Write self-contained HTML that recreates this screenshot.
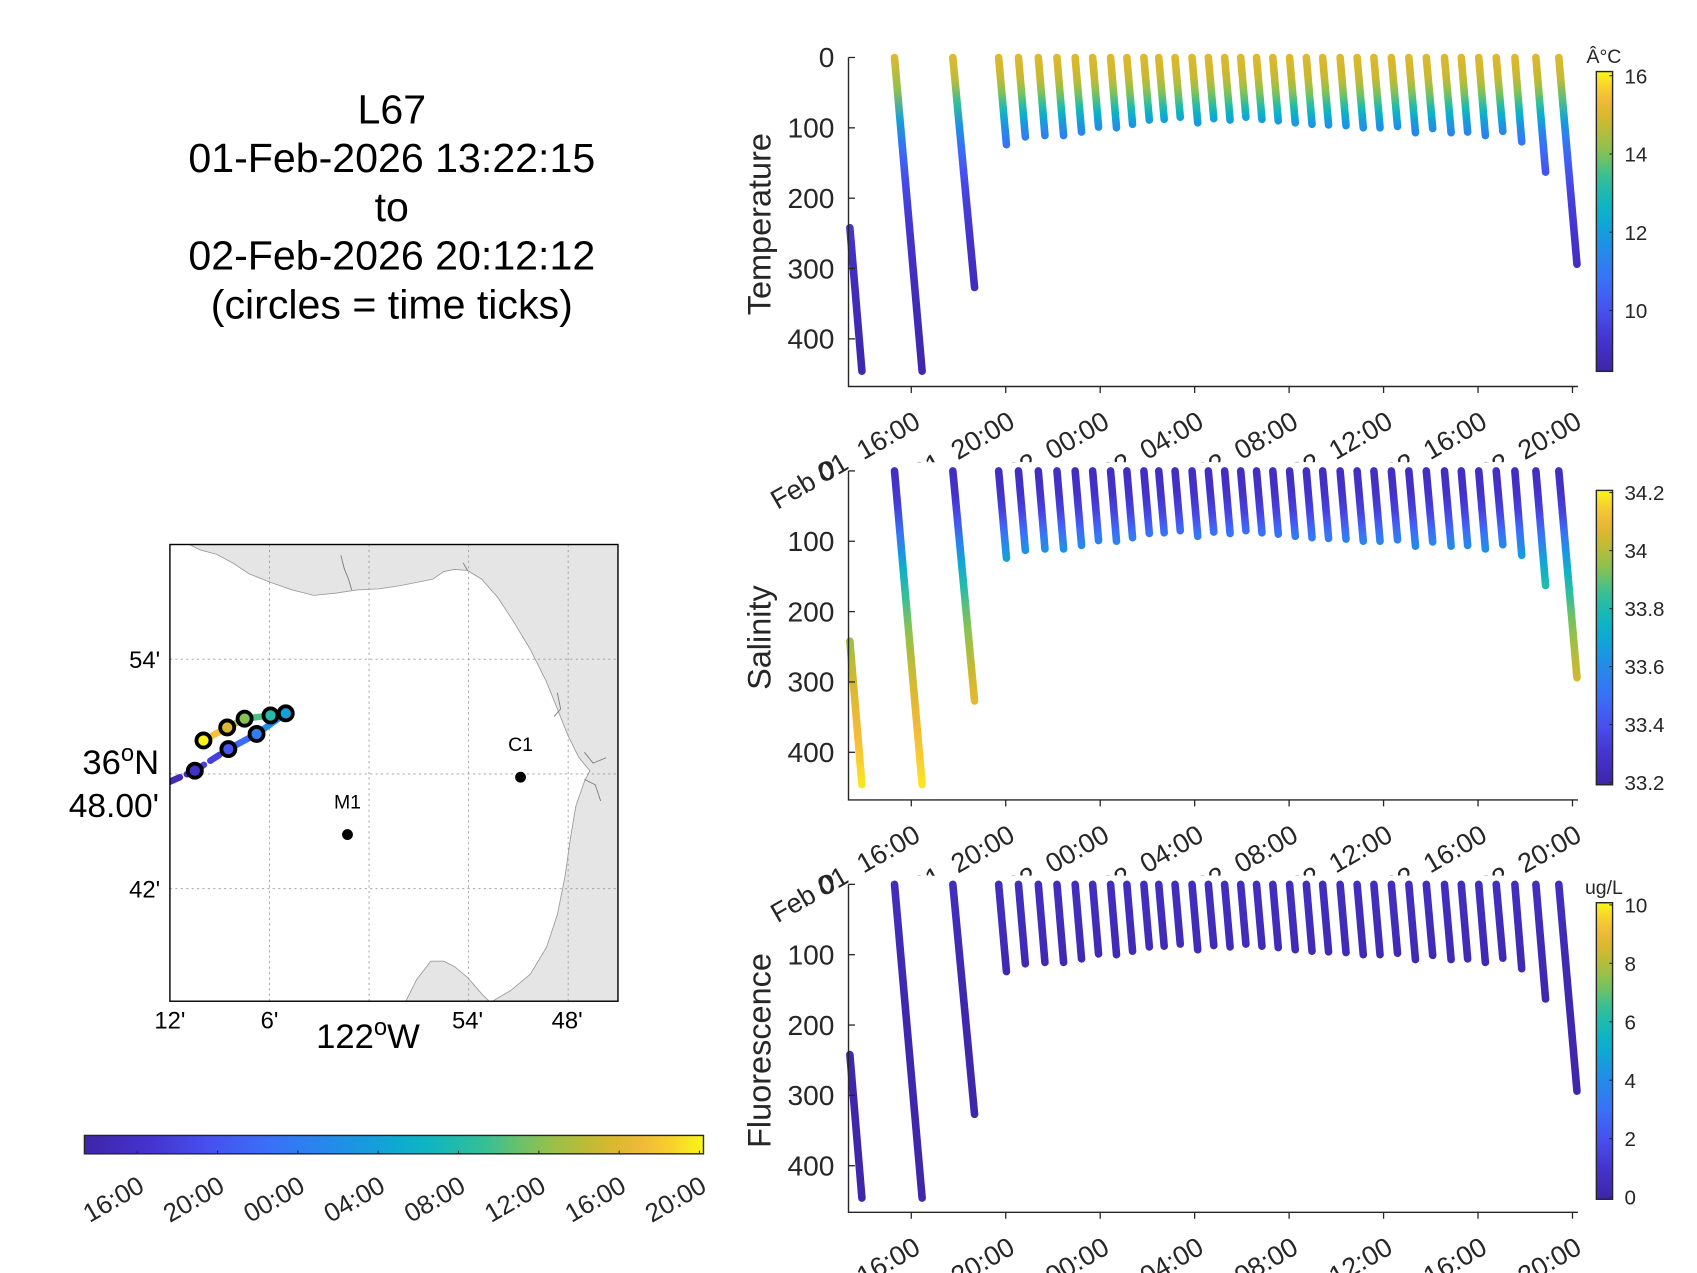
<!DOCTYPE html>
<html><head><meta charset="utf-8"><style>
html,body{margin:0;padding:0;background:#fff;overflow:hidden;}
svg{display:block;font-family:"Liberation Sans",sans-serif;}
</style></head><body>
<svg id="fig" width="1697" height="1273" viewBox="0 0 1568 1176" xmlns="http://www.w3.org/2000/svg">
<defs>
<clipPath id="mapclip"><rect x="157" y="503" width="414" height="422"/></clipPath>
<linearGradient id="hcb" x1="0" x2="1" y1="0" y2="0"></linearGradient>
</defs>
<g id="title" font-size="38" text-anchor="middle" fill="#000">
<text x="362" y="114">L67</text>
<text x="362" y="159">01-Feb-2026 13:22:15</text>
<text x="362" y="204">to</text>
<text x="362" y="249">02-Feb-2026 20:12:12</text>
<text x="362" y="294">(circles = time ticks)</text>
</g>
<g id="map"></g>
<g id="hcbar"></g>
<g id="panels"></g>
</svg>
<script>
// ---------- data ----------
const profStartHours = [-2.60,-0.71,1.76,3.70,4.54,5.38,6.17,6.94,7.68,8.44,9.13,9.85,10.48,11.17,11.89,12.58,13.27,13.95,14.62,15.31,16.02,16.73,17.42,18.16,18.88,19.59,20.33,21.07,21.81,22.58,23.29,24.03,24.77,25.56,26.45,27.42];
const profEndHours = [-2.09,0.46,2.68,4.03,4.83,5.66,6.45,7.21,7.93,8.69,9.37,10.08,10.71,11.39,12.13,12.81,13.50,14.17,14.85,15.54,16.26,16.97,17.67,18.41,19.14,19.85,20.59,21.35,22.08,22.86,23.56,24.31,25.05,25.85,26.86,28.19];
const profStartDepth = [242,0,0,0,0,0,0,0,0,0,0,0,0,0,0,0,0,0,0,0,0,0,0,0,0,0,0,0,0,0,0,0,0,0,0,0];
const profMaxDepth = [446,446,327,124,113,111,111,106,99,100,95,89,88,85,93,87,89,85,88,90,93,95,96,97,100,100,98,107,101,107,106,111,105,120,163,294];
const refDepth = [0,30,60,90,120,160,200,300,450];
const tempRef = [15.0,14.7,13.6,12.0,10.9,10.1,9.6,9.0,8.6];
const salRef = [33.27,33.29,33.36,33.52,33.66,33.8,33.9,34.05,34.18];
const fluoRef = [0.6,0.6,0.5,0.4,0.3,0.2,0.2,0.1,0.1];
const depthTicks = [0,100,200,300,400];
const timeTickHours = [0,4,8,12,16,20,24,28];
const timeTickLabels = ["Feb 01, 16:00","Feb 01, 20:00","Feb 02, 00:00","Feb 02, 04:00","Feb 02, 08:00","Feb 02, 12:00","Feb 02, 16:00","Feb 02, 20:00"];
const shortTickLabels = ["16:00","20:00","00:00","04:00","08:00","12:00","16:00","20:00"];
const trackLon = [-12.0,-10.50,-8.48,-6.78,-5.02,-5.94,-7.50,-8.55,-9.98,-10.3];
const trackLat = [47.6,48.17,49.30,50.09,51.17,51.06,50.89,50.43,49.75,49.6];
const trackHours = [-2.63,0,4,8,12,16,20,24,28,28.2];
const circleIdx = [1,2,3,4,5,6,7,8];
const stationNames = ["M1","C1"];
const stationLon = [-1.30,9.13];
const stationLat = [44.83,47.83];

// ---------- helpers ----------
const NS="http://www.w3.org/2000/svg";
const svg=document.getElementById('fig');
function mk(tag,attrs,parent){const e=document.createElementNS(NS,tag);for(const k in attrs)e.setAttribute(k,attrs[k]);if(parent)parent.appendChild(e);return e;}
const cmap=[[0,'#3e26a8'],[0.1,'#4432cc'],[0.2,'#4750ee'],[0.3,'#3a70f8'],[0.42,'#2090e6'],[0.53,'#07b2cc'],[0.64,'#2fbf9c'],[0.74,'#8cc24e'],[0.84,'#d2b82c'],[0.92,'#f8ba3c'],[1,'#f9f815']];
function hx(c){return [parseInt(c.slice(1,3),16),parseInt(c.slice(3,5),16),parseInt(c.slice(5,7),16)];}
function parula(t){t=Math.max(0,Math.min(1,t));for(let i=1;i<cmap.length;i++){if(t<=cmap[i][0]){const a=cmap[i-1],b=cmap[i];const f=(t-a[0])/(b[0]-a[0]);const A=hx(a[1]),B=hx(b[1]);return 'rgb('+A.map((v,j)=>Math.round(v+(B[j]-v)*f)).join(',')+')';}}return cmap[cmap.length-1][1];}
function interpRef(arr,d){for(let i=1;i<refDepth.length;i++){if(d<=refDepth[i]){const f=(d-refDepth[i-1])/(refDepth[i]-refDepth[i-1]);return arr[i-1]+(arr[i]-arr[i-1])*f;}}return arr[arr.length-1];}
const defs=svg.querySelector('defs');
const hg=document.getElementById('hcb');
for(let i=0;i<=20;i++){mk('stop',{offset:(i/20),'stop-color':parula(i/20)},hg);}

// ---------- time panels ----------
const X0=784,X1=1458,T16=842,PXH=21.82,DPX=0.65;
const xOfH=h=>T16+h*PXH;
const panels=[
 {name:'temperature',title:'Temperature',y0:53,yb:357,ref:tempRef,cmin:8.5,cmax:16.05,cbTop:68,cbBot:341,ticks:[16,14,12,10],unit:'Â°C'},
 {name:'salinity',title:'Salinity',y0:435,yb:739,ref:salRef,cmin:33.2,cmax:34.2,cbTop:455,cbBot:723,ticks:[34.2,34,33.8,33.6,33.4,33.2],unit:''},
 {name:'fluorescence',title:'Fluorescence',y0:817,yb:1120,ref:fluoRef,cmin:0,cmax:10,cbTop:836,cbBot:1106,ticks:[10,8,6,4,2,0],unit:'ug/L'}
];
const pg=document.getElementById('panels');
let gid=0;
panels.forEach(p=>{
 const g=mk('g',{},pg);
 
 
 const bg=mk('rect',{x:X0,y:p.y0-8,width:X1-X0+2,height:p.yb-p.y0+8,fill:'#fff'},g);
 
 
 const yOf=d=>p.y0+d*DPX;
 const norm=v=>(v-p.cmin)/(p.cmax-p.cmin);
 for(let i=0;i<profStartHours.length;i++){
  const d0=profStartDepth[i],d1=profMaxDepth[i];
  const xa=xOfH(profStartHours[i]),xb=xOfH(profEndHours[i]);
  const ya=yOf(d0),yb=yOf(d1);
  const id='pg'+(gid++);
  const lg=mk('linearGradient',{id:id,gradientUnits:'userSpaceOnUse',x1:xa,y1:ya,x2:xb,y2:yb},defs);
  for(let k=0;k<=10;k++){const d=d0+(d1-d0)*k/10;mk('stop',{offset:k/10,'stop-color':parula(norm(interpRef(p.ref,d)))},lg);}
  const ln=mk('line',{x1:Math.max(xa,X0+1),y1:ya,x2:xb,y2:yb,stroke:'url(#'+id+')','stroke-width':7,'stroke-linecap':'round'},g);
  
  
 }
 const ax=mk('path',{d:`M${X0},${p.y0} V${p.yb} H${X1}`,fill:'none',stroke:'#262626','stroke-width':1.3},g);
 
 
 depthTicks.forEach(d=>{
  mk('line',{x1:X0,x2:X0+6,y1:yOf(d),y2:yOf(d),stroke:'#262626','stroke-width':1.2},g);
  const t=mk('text',{x:X0-13,y:yOf(d)+9,'text-anchor':'end','font-size':26,fill:'#262626'},g);
  t.textContent=d;
  
  
 });
 timeTickHours.forEach((h,i)=>{
  const x=xOfH(h);
  mk('line',{x1:x,x2:x,y1:p.yb,y2:p.yb+6,stroke:'#262626','stroke-width':1.2},g);
  const t=mk('text',{x:x+10,y:p.yb+37,'text-anchor':'end','font-size':25,fill:'#262626',transform:`rotate(-30 ${x+10} ${p.yb+37})`},g);
  t.textContent=timeTickLabels[i];
  
  
 });
 const cy=(p.y0+p.yb)/2+2;
 const yt=mk('text',{x:712,y:cy,'text-anchor':'middle','font-size':30,fill:'#262626',transform:`rotate(-90 712 ${cy})`},g);
 yt.textContent=p.title;
 
 
 const cg=mk('linearGradient',{id:'cb'+p.name,x1:0,x2:0,y1:1,y2:0},defs);
 for(let k=0;k<=20;k++)mk('stop',{offset:k/20,'stop-color':parula(k/20)},cg);
 const cb=mk('rect',{x:1475,y:p.cbTop-2,width:15,height:p.cbBot-p.cbTop+4,fill:'url(#cb'+p.name+')',stroke:'#262626','stroke-width':1.3},g);
 
 
 const cyOf=v=>p.cbBot-(v-p.cmin)/(p.cmax-p.cmin)*(p.cbBot-p.cbTop);
 p.ticks.forEach(v=>{
  const y=cyOf(v);
  mk('line',{x1:1487,x2:1490,y1:y,y2:y,stroke:'#262626'},g);
  const t=mk('text',{x:1501,y:y+7,'font-size':19,fill:'#262626'},g);
  t.textContent=String(v);
  
  
 });
 if(p.unit){const u=mk('text',{x:1482,y:p.cbTop-10,'text-anchor':'middle','font-size':18,fill:'#262626'},g);u.textContent=p.unit;
  
  }
});

// ---------- map ----------
const mg=document.getElementById('map');
const mx=lon=>341+lon*15.33, my=lat=>715-(lat-48)*17.67;
const mc=mk('g',{'clip-path':'url(#mapclip)'},mg);
mk('rect',{x:157,y:503,width:414,height:422,fill:'#fff'},mc);
const land=mk('path',{d:'M157,503 L175,503 185,508 200,512 215,520 230,530 250,538 270,545 290,550 310,548 330,545 350,544 370,541 385,538 400,535 410,528 420,526 432,527 445,535 460,552 475,575 490,600 505,630 515,655 525,680 535,700 545,712 540,722 532,745 527,775 522,810 515,845 505,875 490,900 472,915 455,925 571,925 571,503 Z M375,925 L385,905 398,888 410,888 420,893 432,903 445,918 452,925 Z',fill:'#e5e5e5',stroke:'#9a9a9a','stroke-width':0.8},mc);


mk('path',{d:'M315,513 L318,525 322,535 325,545 M428,520 L432,527 M515,640 L518,655 512,662 M540,695 L548,705 560,700 M540,720 L550,725 555,740',fill:'none',stroke:'#777','stroke-width':0.8},mc);
[-12,-6,0,6,12].forEach(l=>mk('line',{x1:mx(l),x2:mx(l),y1:503,y2:925,stroke:'#999','stroke-width':0.8,'stroke-dasharray':'2,3'},mc));
[54,48,42].forEach(l=>mk('line',{x1:157,x2:571,y1:my(l),y2:my(l),stroke:'#999','stroke-width':0.8,'stroke-dasharray':'2,3'},mc));
for(let i=0;i<trackLon.length-1;i++){
 const h=(trackHours[i]+trackHours[i+1])/2;
 const seg=mk('line',{x1:mx(trackLon[i]),y1:my(trackLat[i]),x2:mx(trackLon[i+1]),y2:my(trackLat[i+1]),stroke:parula((h+2.63)/30.83),'stroke-width':6,'stroke-linecap':'round','stroke-dasharray':(i<2)?'10,7':'none'},mc);
 
 
}
circleIdx.forEach(i=>{
 const c=mk('circle',{cx:mx(trackLon[i]),cy:my(trackLat[i]),r:6.5,fill:parula((trackHours[i]+2.63)/30.83),stroke:'#000','stroke-width':3.5},mc);
 
 
});
stationNames.forEach((n,i)=>{
 const c=mk('circle',{cx:mx(stationLon[i]),cy:my(stationLat[i]),r:5,fill:'#000'},mc);
 
 
 const t=mk('text',{x:mx(stationLon[i]),y:my(stationLat[i])-24,'text-anchor':'middle','font-size':18,fill:'#000'},mg);
 t.textContent=n;
 
 
});
const box=mk('rect',{x:157,y:503,width:414,height:422,fill:'none',stroke:'#000','stroke-width':1.3},mg);


const mlabels=[[148,617,"54'",'end',22],[148,829,"42'",'end',22],[157,950,"12'",'middle',22],[249,950,"6'",'middle',22],[432,950,"54'",'middle',22],[524,950,"48'",'middle',22],[147,755,"48.00'",'end',31]];
mlabels.forEach(a=>{const t=mk('text',{x:a[0],y:a[1],'text-anchor':a[3],'font-size':a[4],fill:'#000'},mg);t.textContent=a[2];
 
 });
const lat=mk('text',{x:147,y:715,'text-anchor':'end','font-size':32,fill:'#000'},mg);
lat.innerHTML='36<tspan dy="-12" font-size="22">o</tspan><tspan dy="12">N</tspan>';


const lon=mk('text',{x:340,y:968,'text-anchor':'middle','font-size':32,fill:'#000'},mg);
lon.innerHTML='122<tspan dy="-12" font-size="22">o</tspan><tspan dy="12">W</tspan>';



// ---------- horizontal time colorbar ----------
const hb=document.getElementById('hcbar');
const hr=mk('rect',{x:78,y:1049,width:572,height:17,fill:'url(#hcb)',stroke:'#262626','stroke-width':1.3},hb);


const hxOf=h=>78+(h+2.63)/30.83*572;
timeTickHours.forEach((h,i)=>{
 const x=hxOf(h);
 mk('line',{x1:x,x2:x,y1:1063,y2:1066,stroke:'#262626'},hb);
 const t=mk('text',{x:x+8,y:1100,'text-anchor':'end','font-size':24,fill:'#262626',transform:`rotate(-30 ${x+8} 1100)`},hb);
 t.textContent=shortTickLabels[i];
 
 
});
</script>
</body></html>
